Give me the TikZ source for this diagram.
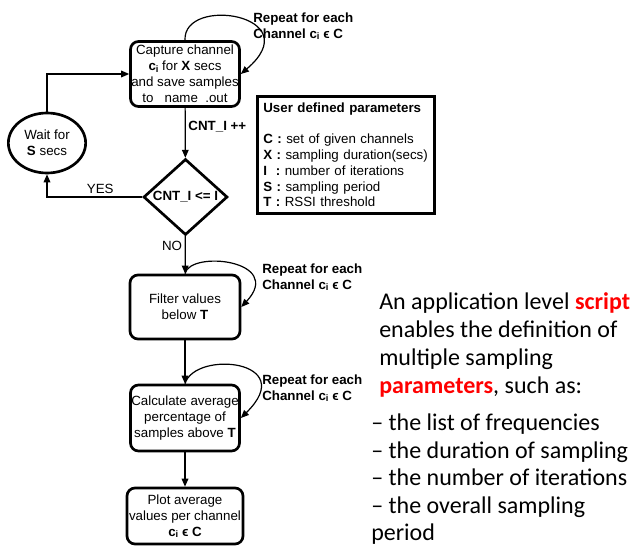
\documentclass[tikz,border=0pt]{standalone}
\usepackage{fontspec}
\setmainfont{Liberation Sans}
\newfontfamily\calibri{Carlito}
\usetikzlibrary{shapes.geometric,arrows.meta}

\newcommand{\chan}{\textbf{c\raisebox{-0.2ex}{\scriptsize i}}}

\begin{document}
\begin{tikzpicture}[x=0.75pt,y=0.75pt,yscale=-1,xscale=1,
    flow/.style={draw, line width=2pt, rounded corners=6pt, align=center, inner sep=0pt, font=\fontsize{10}{12}\selectfont},
    arr/.style={-{Triangle[length=6pt,width=5pt]}, line width=0.9pt},
    lab/.style={font=\fontsize{10}{12}\selectfont, inner sep=2pt},
    note/.style={font=\fontsize{10}{12}\selectfont\bfseries, align=left, inner sep=0pt, anchor=west}]
    \useasboundingbox (0,0) rectangle (636,546);

    % flow chart
    \node[flow, minimum width=81.75pt, minimum height=48.75pt] (capture) at (185,74) {Capture channel\\\chan{} for \textbf{X} secs\\and save samples\\to \ \ name \ .out};
    \node[draw, ellipse, line width=2pt, minimum width=58pt, minimum height=45pt, align=center, inner sep=0pt, font=\fontsize{10}{12}\selectfont] (wait) at (47,143) {Wait for\\\textbf{S} secs};
    \node[draw, diamond, shape aspect=1.2, line width=2pt, minimum width=63pt, minimum height=57pt, inner sep=0pt, font=\fontsize{10}{12}\selectfont\bfseries] (decide) at (185.5,197) {CNT\_I <= I};
    \node[flow, minimum width=82.5pt, minimum height=48pt] (filter) at (185,307) {Filter values\\below \textbf{T}};
    \node[flow, minimum width=81.75pt, minimum height=49.5pt] (calc) at (185,418) {Calculate average\\percentage of\\samples above \textbf{T}};
    \node[flow, minimum width=87pt, minimum height=42pt] (plot) at (185,516) {Plot average\\values per channel\\\chan{} \textbf{ϵ C}};

    \draw[arr] (capture) -- node[lab, right, pos=0.38, font=\fontsize{10}{12}\selectfont\bfseries] (cntinc) {CNT\_I ++} (decide);
    \draw[arr] (decide.west) -| node[lab, above, pos=0.22] (yes) {YES} (wait);
    \draw[arr] (wait) |- (capture);
    \draw[arr] (decide) -- node[lab, left, pos=0.25] (no) {NO} (filter);
    \draw[arr] (filter) -- (calc);
    \draw[arr] (calc) -- (plot);

    % repeat loops
    \draw[arr] (capture.north) .. controls (183,-5) and (310,15) .. (capture.east);
    \draw[arr] (filter.north) .. controls (190,250) and (285,260) .. (filter.east);
    \draw[arr] (calc.north) .. controls (195,350) and (300,360) .. (calc.east);
    \node[note] (rep1) at (253,26) {Repeat for each\\Channel \chan{} ϵ C};
    \node[note] (rep2) at (262,277) {Repeat for each\\Channel \chan{} ϵ C};
    \node[note] (rep3) at (262,388) {Repeat for each\\Channel \chan{} ϵ C};

    % parameters
    \node[draw, line width=2pt, anchor=north west, inner sep=4.5pt, text width=124pt, minimum height=87.75pt, align=left, font=\fontsize{10}{11.8}\selectfont] (params) at (256,95) {\textbf{User defined parameters}\\[11.8pt]
        \textbf{C :} set of given channels\\
        \textbf{X :} sampling duration(secs)\\
        \textbf{I \ :} number of iterations\\
        \textbf{S :} sampling period\\
        \textbf{T :} RSSI threshold};

    % side text
    \node[anchor=north west, inner sep=0pt, align=left, font=\calibri\fontsize{18}{21}\selectfont] (blurb) at (379,292) {An application level \textcolor{red}{\textbf{script}}\\enables the definition of\\multiple sampling\\\textcolor{red}{\textbf{parameters}}, such as:};
    \node[anchor=north west, inner sep=0pt, align=left, font=\calibri\fontsize{18}{20.6}\selectfont] (items) at (371,414) {– the list of frequencies\\– the duration of sampling\\– the number of iterations\\– the overall sampling\\period};
\end{tikzpicture}
\end{document}
